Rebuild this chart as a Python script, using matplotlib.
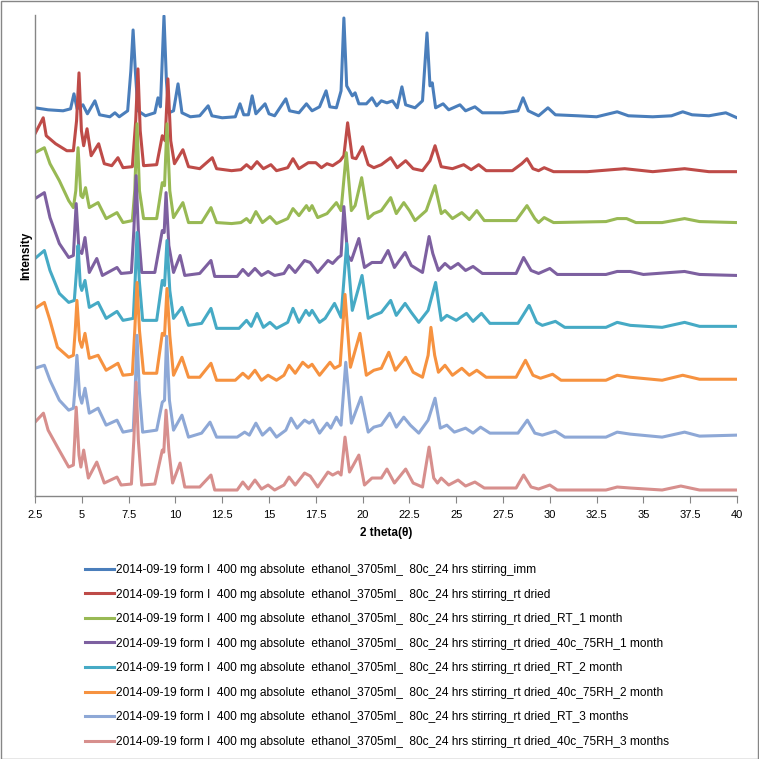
import matplotlib
matplotlib.use("Agg")
import matplotlib.pyplot as plt
from matplotlib.patches import Rectangle

plt.rcParams['font.family'] = ['Liberation Sans', 'DejaVu Sans']

# XRPD traces, stacked (intensity values already include the offset of each pattern)
imm_2theta = [2.5, 3.2, 4.0, 4.4, 4.58, 4.75, 5.06, 5.3, 5.7, 5.95, 6.5, 6.77, 7.0, 7.45, 7.62, 7.74, 7.86, 8.0,
              8.4, 8.9, 9.07, 9.2, 9.39, 9.52, 9.65, 9.9, 10.14, 10.35, 10.8, 11.3, 11.75, 11.95, 12.5, 13.2, 13.45,
              13.65, 13.9, 14.1, 14.3, 14.79, 15.0, 15.3, 15.9, 16.1, 16.6, 17.0, 17.3, 17.7, 18.05, 18.25, 18.6,
              18.85, 19.0, 19.15, 19.3, 19.45, 19.6, 19.8, 20.2, 20.5, 20.75, 21.0, 21.3, 21.6, 21.85, 22.1, 22.3,
              22.8, 23.2, 23.44, 23.6, 23.72, 23.9, 24.3, 24.6, 25.2, 25.5, 26.0, 26.4, 27.5, 28.3, 28.57, 28.85,
              29.4, 29.9, 30.3, 31.5, 32.5, 33.6, 34.2, 35.5, 36.5, 37.1, 37.6, 38.5, 39.4, 40.0]
imm_int = [389, 387, 386, 388, 403, 388, 392, 383, 396, 382, 380, 384, 380, 386, 426, 467, 426, 386,
           381, 384, 399, 390, 481, 416, 384, 386, 413, 384, 380, 381, 391, 381, 379, 380, 393,
           382, 382, 401, 383, 393, 383, 381, 398, 386, 384, 393, 386, 390, 406, 390, 389,
           406, 479, 411, 406, 401, 404, 393, 393, 399, 391, 396, 394, 396, 389, 410, 392,
           389, 396, 464, 411, 414, 389, 393, 387, 392, 386, 390, 384, 384, 386, 399, 386,
           381, 389, 382, 381, 380, 385, 381, 380, 381, 385, 382, 381, 384, 379]

rtdried_2theta = [2.5, 2.94, 3.1, 3.6, 4.2, 4.55, 4.72, 4.85, 4.98, 5.1, 5.28, 5.5, 5.9, 6.2, 6.6, 6.93, 7.2, 7.7,
                  7.88, 8.0, 8.12, 8.3, 9.0, 9.3, 9.45, 9.6, 9.75, 9.95, 10.4, 10.7, 11.3, 11.97, 12.2, 13.0, 13.5,
                  13.8, 14.05, 14.36, 14.7, 15.1, 15.4, 16.0, 16.28, 16.6, 17.1, 17.5, 17.8, 18.1, 18.4, 18.8, 19.0,
                  19.2, 19.45, 19.65, 20.0, 20.3, 20.6, 21.0, 21.5, 21.85, 22.3, 22.7, 23.2, 23.6, 23.87, 24.2, 24.8,
                  25.4, 25.8, 26.2, 26.6, 28.0, 28.5, 28.78, 29.1, 29.4, 29.7, 30.2, 32.0, 34.0, 35.5, 37.2, 38.5, 40.0]
rtdried_int = [363, 379, 361, 353, 346, 346, 376, 424, 366, 351, 368, 341, 353, 333, 331, 339, 329, 330,
               376, 428, 366, 331, 332, 361, 356, 418, 356, 333, 347, 330, 328, 339, 328, 326, 327,
               332, 328, 335, 328, 332, 326, 329, 338, 328, 334, 334, 329, 333, 331, 336, 341,
               374, 339, 338, 350, 332, 329, 332, 339, 329, 336, 328, 326, 336, 351, 330, 328,
               332, 327, 332, 326, 326, 333, 338, 328, 326, 329, 325, 325, 328, 325, 328, 325, 325]

rt1m_2theta = [2.5, 3.0, 3.3, 3.8, 4.3, 4.55, 4.68, 4.8, 4.95, 5.05, 5.2, 5.4, 5.87, 6.3, 6.88, 7.2, 7.7, 7.83, 7.95,
               8.08, 8.3, 9.0, 9.3, 9.42, 9.55, 9.7, 9.9, 10.4, 10.7, 11.4, 11.9, 12.2, 13.0, 13.5, 13.8, 14.0, 14.3,
               14.65, 15.05, 15.4, 16.0, 16.28, 16.6, 17.0, 17.15, 17.3, 17.6, 18.1, 18.6, 18.85, 19.13, 19.4, 19.6,
               19.95, 20.3, 20.6, 21.0, 21.5, 21.8, 22.2, 22.5, 22.8, 23.4, 23.87, 24.2, 24.4, 24.8, 25.3, 25.7,
               26.1, 26.5, 28.2, 28.78, 29.2, 29.4, 29.7, 30.2, 33.0, 33.6, 34.1, 34.6, 36.0, 37.2, 38.0, 40.0]
rt1m_int = [344, 349, 333, 316, 296, 289, 306, 349, 301, 299, 309, 289, 294, 278, 284, 274, 276, 306, 373,
            306, 278, 278, 314, 311, 373, 306, 279, 294, 274, 274, 289, 274, 273, 274, 278, 274, 285,
            274, 280, 273, 278, 288, 281, 291, 286, 291, 279, 283, 294, 286, 344, 286, 291,
            319, 278, 283, 286, 299, 283, 294, 286, 276, 286, 311, 283, 286, 278, 284, 277,
            286, 276, 276, 291, 278, 274, 279, 274, 275, 278, 278, 274, 274, 278, 275, 274]

rh1m_2theta = [2.5, 3.0, 3.3, 3.8, 4.3, 4.55, 4.7, 4.85, 5.0, 5.17, 5.4, 5.8, 6.1, 6.88, 7.1, 7.65, 7.78, 7.9, 8.02,
               8.2, 8.9, 9.3, 9.4, 9.5, 9.65, 9.9, 10.25, 10.5, 11.3, 11.9, 12.1, 13.3, 13.6, 13.9, 14.25, 14.6,
               14.95, 15.3, 15.8, 16.07, 16.4, 16.9, 17.2, 17.6, 18.15, 18.4, 18.7, 18.85, 19.0, 19.2, 19.4, 19.8,
               20.1, 20.5, 21.0, 21.36, 21.7, 22.27, 22.6, 23.2, 23.55, 23.75, 24.05, 24.4, 24.7, 25.1, 25.5, 25.9,
               26.4, 28.2, 28.6, 29.0, 29.4, 30.0, 30.4, 33.0, 33.6, 34.3, 35.0, 37.2, 38.0, 40.0]
rh1m_int = [298, 304, 279, 253, 239, 241, 293, 246, 243, 259, 224, 238, 221, 229, 223, 224, 266, 321, 266,
            224, 224, 266, 264, 304, 251, 224, 241, 221, 223, 236, 220, 220, 227, 221, 228, 221,
            225, 221, 223, 231, 224, 236, 234, 224, 236, 233, 239, 241, 290, 241, 236, 258,
            229, 234, 234, 246, 229, 244, 231, 224, 260, 243, 226, 233, 228, 233, 226, 230,
            223, 223, 239, 226, 223, 228, 222, 222, 225, 225, 222, 225, 222, 221]

rt2m_2theta = [2.5, 3.0, 3.3, 3.8, 4.3, 4.6, 4.72, 4.8, 4.92, 5.0, 5.17, 5.4, 5.87, 6.3, 6.88, 7.2, 7.75, 7.85, 7.95,
               8.07, 8.25, 9.0, 9.3, 9.42, 9.55, 9.7, 9.9, 10.35, 10.7, 11.4, 11.9, 12.2, 13.4, 13.8, 14.05, 14.36,
               14.7, 15.05, 15.4, 16.0, 16.28, 16.6, 16.97, 17.15, 17.3, 17.7, 18.0, 18.5, 18.85, 19.15, 19.45,
               19.97, 20.3, 20.6, 21.0, 21.5, 21.8, 22.27, 22.6, 23.0, 23.5, 23.9, 24.2, 24.5, 25.0, 25.55, 25.9,
               26.35, 26.8, 28.3, 28.9, 29.3, 29.6, 30.3, 30.8, 33.0, 33.6, 34.3, 36.0, 37.2, 38.0, 40.0]
rt2m_int = [238, 246, 226, 203, 194, 196, 226, 251, 211, 206, 216, 189, 194, 178, 185, 176, 178, 216, 264,
            216, 176, 176, 216, 211, 256, 206, 178, 189, 171, 173, 188, 168, 168, 176, 170, 183,
            169, 174, 168, 174, 188, 174, 186, 181, 186, 174, 178, 193, 179, 253, 186,
            221, 178, 181, 184, 196, 181, 193, 184, 174, 186, 214, 176, 181, 176, 183, 175,
            183, 173, 173, 191, 174, 171, 175, 169, 169, 174, 171, 169, 174, 170, 170]

rh2m_2theta = [2.5, 3.0, 3.3, 3.7, 4.3, 4.55, 4.65, 4.74, 4.88, 5.0, 5.17, 5.4, 5.87, 6.3, 6.93, 7.2, 7.7, 7.83, 7.95,
               8.08, 8.3, 9.0, 9.3, 9.42, 9.55, 9.7, 9.9, 10.35, 10.7, 11.3, 11.9, 12.2, 13.2, 13.6, 13.9, 14.25,
               14.6, 14.95, 15.4, 15.8, 16.07, 16.4, 16.8, 17.1, 17.3, 17.7, 18.26, 18.5, 18.8, 19.06, 19.35, 19.86,
               20.2, 20.6, 21.0, 21.4, 21.75, 22.3, 22.7, 23.2, 23.5, 23.65, 23.85, 24.05, 24.4, 24.8, 25.3, 25.7,
               26.1, 26.6, 28.2, 28.7, 29.1, 29.5, 30.15, 30.6, 33.0, 33.6, 34.3, 36.0, 37.1, 38.0, 40.0]
rh2m_int = [188, 194, 176, 149, 139, 141, 166, 196, 156, 149, 163, 138, 141, 126, 133, 121, 122, 166, 214,
            166, 123, 123, 163, 161, 208, 161, 121, 139, 119, 119, 133, 116, 116, 123, 118, 126,
            116, 121, 116, 121, 131, 123, 134, 129, 132, 121, 134, 128, 131, 202, 129, 163,
            121, 126, 128, 144, 126, 139, 124, 119, 141, 169, 141, 124, 131, 121, 128, 121,
            126, 119, 119, 136, 121, 118, 122, 116, 116, 121, 119, 116, 121, 117, 117]

rt3m_2theta = [2.5, 3.0, 3.3, 3.8, 4.3, 4.55, 4.65, 4.74, 4.88, 5.0, 5.17, 5.4, 5.87, 6.3, 6.88, 7.2, 7.75, 7.85, 7.95,
               8.07, 8.25, 9.0, 9.3, 9.42, 9.53, 9.68, 9.9, 10.35, 10.7, 11.4, 11.85, 12.2, 13.3, 13.7, 13.95, 14.3,
               14.65, 15.05, 15.4, 15.9, 16.18, 16.5, 16.9, 17.15, 17.35, 17.7, 18.1, 18.3, 18.6, 18.85, 19.1, 19.4,
               19.92, 20.3, 20.6, 21.0, 21.45, 21.8, 22.2, 22.55, 23.0, 23.5, 23.87, 24.15, 24.5, 24.9, 25.5, 25.9,
               26.3, 26.8, 28.3, 28.8, 29.2, 29.6, 30.3, 30.8, 33.0, 33.6, 34.3, 36.0, 37.2, 38.0, 40.0]
rt3m_int = [128, 131, 116, 96, 86, 88, 111, 141, 101, 93, 108, 83, 88, 71, 76, 64, 66, 106, 161,
            106, 64, 66, 94, 96, 160, 96, 66, 81, 59, 63, 74, 59, 59, 64, 61, 73,
            61, 68, 59, 66, 78, 68, 76, 73, 76, 63, 73, 68, 79, 71, 134, 73,
            99, 64, 69, 71, 83, 69, 79, 71, 63, 76, 98, 68, 71, 64, 68, 63,
            69, 63, 63, 76, 63, 61, 65, 59, 59, 64, 62, 59, 64, 60, 61]

rh3m_2theta = [2.5, 2.95, 3.2, 3.7, 4.3, 4.55, 4.62, 4.7, 4.85, 4.95, 5.1, 5.35, 5.8, 6.2, 6.88, 7.1, 7.65, 7.78, 7.9,
               8.02, 8.2, 8.9, 9.3, 9.38, 9.5, 9.65, 9.85, 10.25, 10.5, 11.3, 11.9, 12.1, 13.3, 13.6, 13.9, 14.25,
               14.6, 14.95, 15.3, 15.8, 16.07, 16.4, 16.9, 17.2, 17.6, 18.15, 18.4, 18.7, 18.85, 19.06, 19.3, 19.8,
               20.1, 20.5, 21.0, 21.3, 21.7, 22.3, 22.7, 23.2, 23.55, 23.8, 24.0, 24.2, 24.6, 25.1, 25.5, 26.0,
               26.5, 28.2, 28.6, 29.0, 29.4, 30.0, 30.4, 33.0, 33.6, 34.3, 36.0, 37.0, 38.0, 40.0]
rh3m_int = [74, 83, 66, 49, 29, 31, 56, 89, 41, 29, 46, 18, 34, 13, 19, 11, 12, 56, 114,
            56, 11, 12, 46, 44, 86, 46, 13, 33, 9, 9, 21, 6, 6, 14, 7, 16,
            7, 11, 6, 11, 19, 11, 23, 20, 9, 24, 21, 24, 21, 59, 24, 41,
            11, 18, 18, 27, 13, 27, 13, 9, 49, 18, 13, 18, 11, 16, 10, 14,
            8, 8, 21, 9, 7, 11, 6, 6, 9, 8, 6, 10, 6, 6]

base = "2014-09-19 form I  400 mg absolute  ethanol_3705ml_  80c_24 hrs stirring"
labels = [base + "_imm",
          base + "_rt dried",
          base + "_rt dried_RT_1 month",
          base + "_rt dried_40c_75RH_1 month",
          base + "_rt dried_RT_2 month",
          base + "_rt dried_40c_75RH_2 month",
          base + "_rt dried_RT_3 months",
          base + "_rt dried_40c_75RH_3 months"]
colors = ["#4A7EBB", "#BE4B48", "#98B954", "#7D60A0", "#46AAC5", "#F69240", "#8EA8D6", "#D78F8D"]

series = [(imm_2theta, imm_int), (rtdried_2theta, rtdried_int), (rt1m_2theta, rt1m_int),
          (rh1m_2theta, rh1m_int), (rt2m_2theta, rt2m_int), (rh2m_2theta, rh2m_int),
          (rt3m_2theta, rt3m_int), (rh3m_2theta, rh3m_int)]

fig = plt.figure(figsize=(7.59, 7.59), dpi=100)
ax = fig.add_axes([35 / 759, 1 - 496 / 759, 702 / 759, 481 / 759])

for (x, y), c, lab in zip(series, colors, labels):
    ax.plot(x, y, color=c, lw=2.2, label=lab, solid_joinstyle='round')

ax.set_xlim(2.5, 40)
ax.set_ylim(0, 482)
ax.set_xticks([2.5 + 2.5 * i for i in range(16)])
ax.set_xticklabels(["2.5", "5", "7.5", "10", "12.5", "15", "17.5", "20", "22.5", "25", "27.5",
                    "30", "32.5", "35", "37.5", "40"])
ax.set_yticks([])
for s in ["top", "right"]:
    ax.spines[s].set_visible(False)
for s in ["left", "bottom"]:
    ax.spines[s].set_color("#868686")
    ax.spines[s].set_linewidth(1.0)
ax.tick_params(axis='x', colors="#868686", labelcolor="black", length=5, direction='out', labelsize=8, pad=5)
ax.set_xlabel("2 theta(θ)", fontsize=8.5, fontweight='bold', labelpad=5)
ax.set_ylabel("Intensity", fontsize=8.5, fontweight='bold', labelpad=2)

fig.legend(loc='upper left', bbox_to_anchor=(85 / 759, 1 - 564 / 759), frameon=False,
           fontsize=8.6, handlelength=2.4, handletextpad=0.2, labelspacing=1.05,
           borderpad=0, borderaxespad=0)

fig.patches.append(Rectangle((0.5 / 759, 0.5 / 759), 757.5 / 759, 757.5 / 759, transform=fig.transFigure,
                             fill=False, edgecolor="#868686", lw=1.0))

fig.savefig("out.png", dpi=100)
